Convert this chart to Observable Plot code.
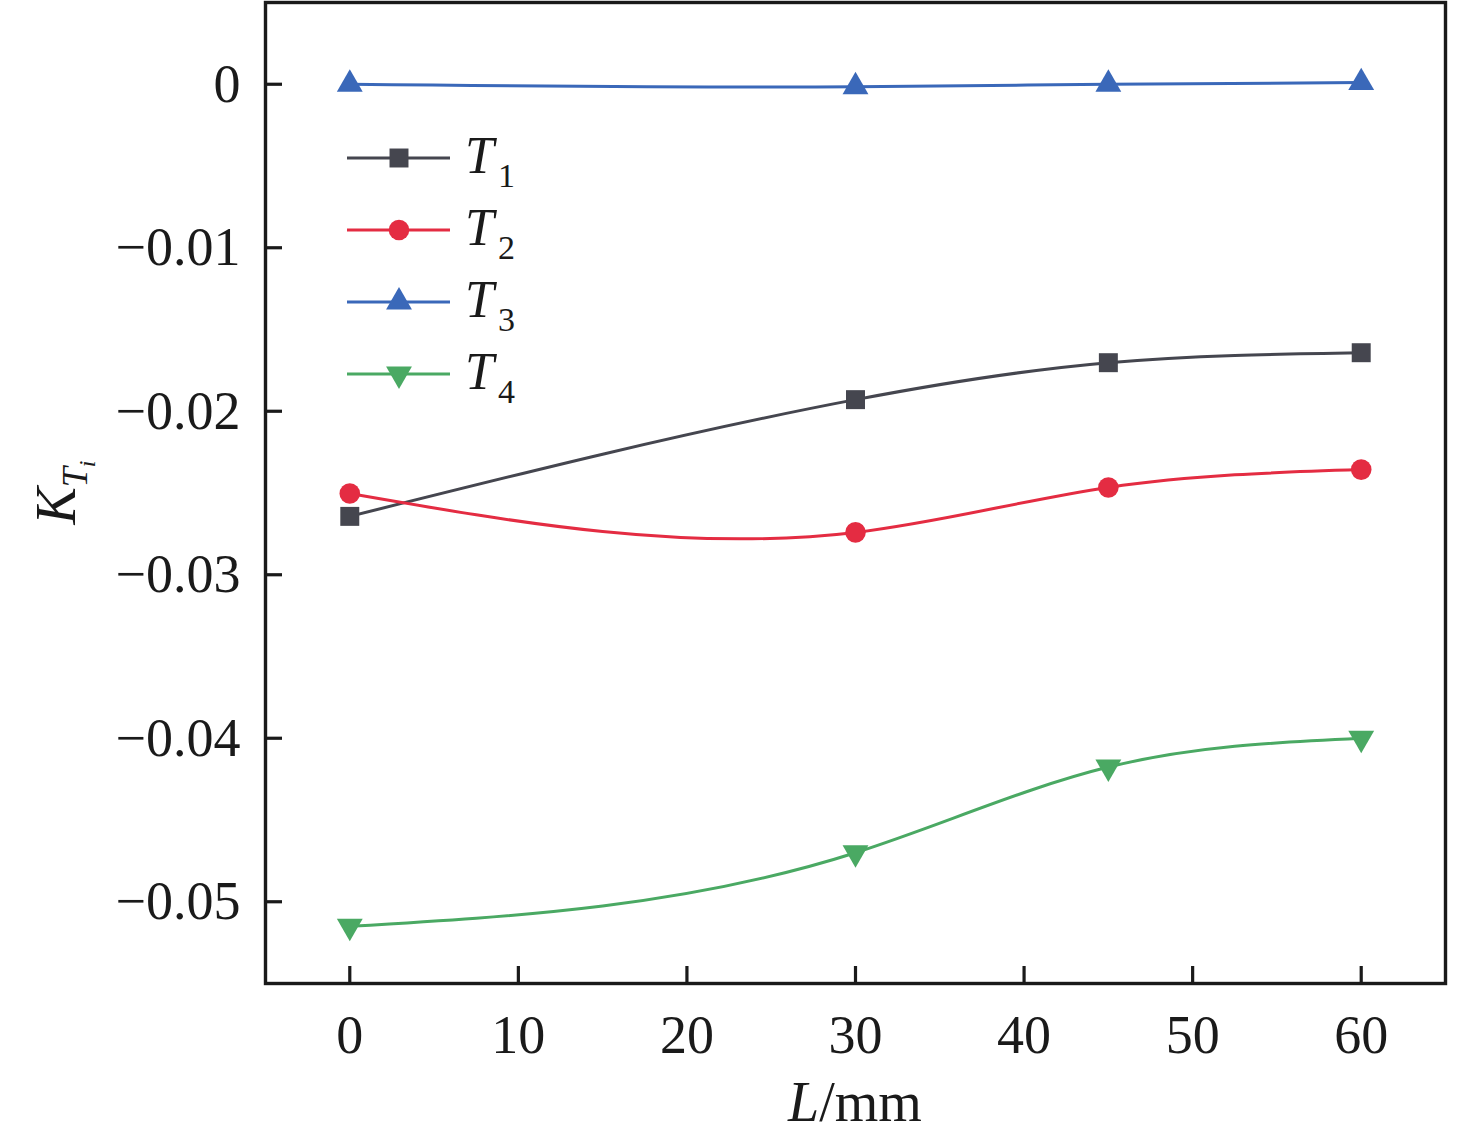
<!DOCTYPE html>
<html>
<head>
<meta charset="utf-8">
<script src="https://cdn.jsdelivr.net/npm/d3@7"></script>
<script src="https://cdn.jsdelivr.net/npm/@observablehq/plot@0.6"></script>
<style>
  html, body { margin: 0; padding: 0; background: #fff; }
  #chart svg { display: block; }
</style>
</head>
<body>
<div id="chart"></div>
<script>
// ---- data ----
const L = [0, 30, 45, 60];
const T1 = [-0.02643, -0.01929, -0.01703, -0.01642];
const T2 = [-0.02503, -0.02741, -0.02466, -0.02357];
const T3 = [0.0000, -0.00015, 0.0000, 0.0001];
const T4 = [-0.0515, -0.0470, -0.04176, -0.0400];
const seriesNames = ["T1", "T2", "T3", "T4"];
const seriesSub = ["1", "2", "3", "4"];
const seriesColors = ["#45464f", "#e42c42", "#3a68b9", "#4aa963"];
const xTicks = [0, 10, 20, 30, 40, 50, 60];
const yTicks = [0, -0.01, -0.02, -0.03, -0.04, -0.05];

const seriesValues = [T1, T2, T3, T4];

// Natural cubic spline as a function of x (like Origin's "Spline" connection),
// implemented as a d3-style curve factory for Plot's line mark.
function curveNaturalX(context) {
  let xs = [], ys = [], lineState = NaN;
  return {
    areaStart() { lineState = 0; },
    areaEnd() { lineState = NaN; },
    lineStart() { xs = []; ys = []; },
    point(x, y) { xs.push(+x); ys.push(+y); },
    lineEnd() {
      const n = xs.length;
      if (n === 0) return;
      if (lineState) context.lineTo(xs[0], ys[0]); else context.moveTo(xs[0], ys[0]);
      if (n === 2) context.lineTo(xs[1], ys[1]);
      if (n > 2) {
        const h = [], M = new Array(n).fill(0);
        for (let i = 0; i < n - 1; i++) h.push(xs[i + 1] - xs[i]);
        // tridiagonal system for interior second derivatives
        const m = n - 2, a = [], b = [], c = [], d = [];
        for (let i = 1; i <= m; i++) {
          a.push(h[i - 1]);
          b.push(2 * (h[i - 1] + h[i]));
          c.push(h[i]);
          d.push(6 * ((ys[i + 1] - ys[i]) / h[i] - (ys[i] - ys[i - 1]) / h[i - 1]));
        }
        for (let i = 1; i < m; i++) {
          const w = a[i] / b[i - 1];
          b[i] -= w * c[i - 1];
          d[i] -= w * d[i - 1];
        }
        const sol = new Array(m);
        sol[m - 1] = d[m - 1] / b[m - 1];
        for (let i = m - 2; i >= 0; i--) sol[i] = (d[i] - c[i] * sol[i + 1]) / b[i];
        for (let i = 0; i < m; i++) M[i + 1] = sol[i];
        for (let i = 0; i < n - 1; i++) {
          const hi = h[i], slope = (ys[i + 1] - ys[i]) / hi;
          const s0 = slope - hi * (2 * M[i] + M[i + 1]) / 6;
          const s1 = slope + hi * (M[i] + 2 * M[i + 1]) / 6;
          context.bezierCurveTo(
            xs[i] + hi / 3, ys[i] + s0 * hi / 3,
            xs[i + 1] - hi / 3, ys[i + 1] - s1 * hi / 3,
            xs[i + 1], ys[i + 1]
          );
        }
      }
      if (lineState || (lineState !== 0 && n === 1)) context.closePath();
      lineState = 1 - lineState;
    }
  };
}

// custom down-pointing triangle symbol
const sqrt3 = Math.sqrt(3);
const triangleDown = {
  draw(context, size) {
    const y = -Math.sqrt(size / (sqrt3 * 3));
    context.moveTo(0, -y * 2);
    context.lineTo(-sqrt3 * y, y);
    context.lineTo(sqrt3 * y, y);
    context.closePath();
  }
};
const symbols = ["square", "circle", "triangle", triangleDown];
const radii = [10.7, 10.3, 9.6, 9.6];

const W = 1476, H = 1134;
const mL = 265, mR = 31, mT = 2, mB = 151;
const plotW = W - mL - mR, plotH = H - mT - mB;
const FONT = "Liberation Serif, Times New Roman, serif";
const INK = "#1a1a1a";

const marks = [];
seriesNames.forEach((name, i) => {
  const data = L.map((x, j) => ({x, y: seriesValues[i][j]}));
  marks.push(Plot.line(data, {x: "x", y: "y", curve: curveNaturalX, stroke: seriesColors[i], strokeWidth: 3}));
  marks.push(Plot.dot(data, {x: "x", y: "y", symbol: symbols[i], r: radii[i], fill: seriesColors[i], stroke: "none"}));
});

const fmtY = d => d === 0 ? "0" : d3.format(".2f")(d);

const chart = Plot.plot({
  width: W,
  height: H,
  marginLeft: mL,
  marginRight: mR,
  marginTop: mT,
  marginBottom: mB,
  style: {fontFamily: FONT, background: "#fff", color: INK},
  x: {domain: [-5, 65], label: null},
  y: {domain: [-0.055, 0.005], label: null},
  marks: [
    Plot.axisX({ticks: xTicks, tickSize: 0, tickPadding: 31, fontSize: 54, label: null, fill: INK}),
    Plot.axisY({ticks: yTicks, tickSize: 0, tickPadding: 25, fontSize: 54, label: null, tickFormat: fmtY, fill: INK}),
    Plot.tickX(xTicks, {x: d => d, insetTop: plotH - 17, stroke: INK, strokeWidth: 3.2}),
    Plot.tickY(yTicks, {y: d => d, insetRight: plotW - 17, stroke: INK, strokeWidth: 3.2}),
    ...marks,
    Plot.frame({stroke: INK, strokeWidth: 3.4})
  ]
});

document.getElementById("chart").appendChild(chart);

// ---- axis labels and legend (rich text) ----
const svg = d3.select(chart);

// x label: L/mm
const xl = svg.append("text")
  .attr("x", mL + plotW / 2)
  .attr("y", 1121)
  .attr("text-anchor", "middle")
  .attr("font-family", FONT)
  .attr("font-size", 56)
  .attr("fill", INK);
xl.append("tspan").attr("font-style", "italic").text("L");
xl.append("tspan").text("/mm");

// y label: K_{T_i}
const yl = svg.append("text")
  .attr("transform", `translate(75, ${mT + plotH / 2}) rotate(-90)`)
  .attr("text-anchor", "middle")
  .attr("font-family", FONT)
  .attr("font-size", 56)
  .attr("font-style", "italic")
  .attr("fill", INK);
yl.append("tspan").text("K");
yl.append("tspan").attr("font-size", 36).attr("dy", 12).text("T");
yl.append("tspan").attr("font-size", 24).attr("dy", 8).text("i");

// legend
const legendX0 = 347, legendX1 = 450, legendMid = 399, legendTop = 158, legendStep = 72;
seriesNames.forEach((name, i) => {
  const y = legendTop + i * legendStep;
  const g = svg.append("g");
  g.append("line")
    .attr("x1", legendX0).attr("x2", legendX1)
    .attr("y1", y).attr("y2", y)
    .attr("stroke", seriesColors[i]).attr("stroke-width", 3);
  const symType = {square: d3.symbolSquare, circle: d3.symbolCircle, triangle: d3.symbolTriangle}[symbols[i]] || symbols[i];
  g.append("path")
    .attr("transform", `translate(${legendMid},${y})`)
    .attr("d", d3.symbol(symType, Math.PI * radii[i] * radii[i])())
    .attr("fill", seriesColors[i]);
  const t = g.append("text")
    .attr("x", 465).attr("y", y + 15)
    .attr("text-anchor", "start")
    .attr("font-family", FONT)
    .attr("font-size", 52)
    .attr("fill", INK);
  t.append("tspan").attr("font-style", "italic").text("T");
  t.append("tspan").attr("font-size", 34).attr("dy", 14).attr("dx", 4).text(seriesSub[i]);
});
</script>
</body>
</html>
